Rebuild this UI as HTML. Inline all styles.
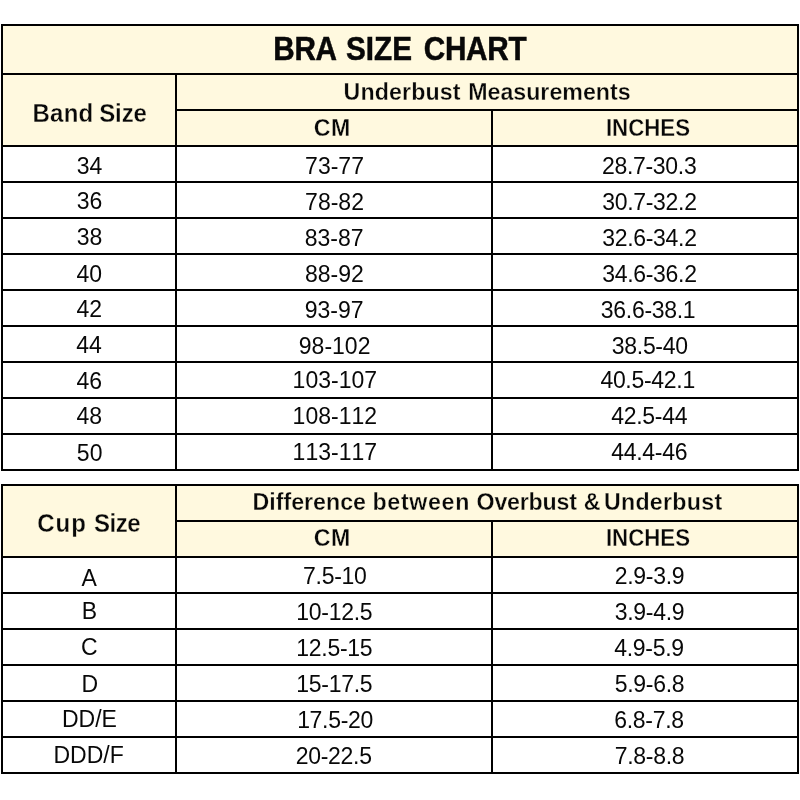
<!DOCTYPE html>
<html><head><meta charset="utf-8"><title>Bra Size Chart</title>
<style>
html,body{margin:0;padding:0;background:#fff;}
#c{position:relative;width:800px;height:800px;overflow:hidden;background:#fff;font-family:"Liberation Sans",sans-serif;color:#080808;}
#c div{position:absolute;}
#c #tx{left:0;top:0;width:800px;height:800px;will-change:transform;}
.t{position:absolute;white-space:nowrap;line-height:0;transform:translateX(-50%);}
.title{font-size:33px;}.h1{font-size:25px;}.h2{font-size:23.2px;}.h2m{font-size:23.2px;}.d{font-size:23px;}
.title{font-weight:bold;-webkit-text-stroke:0.5px #080808;transform:translateX(-50%) scaleX(0.9);}
.d{font-kerning:none;}
.h1{font-weight:bold;-webkit-text-stroke:0.3px #fff9df;transform:translateX(-50%) scaleX(0.96);}
.h2{font-weight:bold;-webkit-text-stroke:0.3px #fff9df;transform:translateX(-50%) scaleX(0.96);}
.h2m{font-weight:bold;-webkit-text-stroke:0.3px #fff9df;transform:translateX(-50%) scaleX(1.0);}
</style></head><body>
<div id="c">
<div style="left:1px;top:24px;width:798px;height:123px;background:#fff9df"></div>
<div style="left:1px;top:484px;width:798px;height:74px;background:#fff9df"></div>
<div style="left:1px;top:24px;width:798px;height:2px;background:#000"></div>
<div style="left:1px;top:73px;width:798px;height:2px;background:#000"></div>
<div style="left:175px;top:109px;width:624px;height:2px;background:#000"></div>
<div style="left:1px;top:145px;width:798px;height:2px;background:#000"></div>
<div style="left:1px;top:181px;width:798px;height:2px;background:#000"></div>
<div style="left:1px;top:217px;width:798px;height:2px;background:#000"></div>
<div style="left:1px;top:253px;width:798px;height:2px;background:#000"></div>
<div style="left:1px;top:289px;width:798px;height:2px;background:#000"></div>
<div style="left:1px;top:325px;width:798px;height:2px;background:#000"></div>
<div style="left:1px;top:361px;width:798px;height:2px;background:#000"></div>
<div style="left:1px;top:397px;width:798px;height:2px;background:#000"></div>
<div style="left:1px;top:433px;width:798px;height:2px;background:#000"></div>
<div style="left:1px;top:469px;width:798px;height:2px;background:#000"></div>
<div style="left:1px;top:484px;width:798px;height:2px;background:#000"></div>
<div style="left:175px;top:520px;width:624px;height:2px;background:#000"></div>
<div style="left:1px;top:556px;width:798px;height:2px;background:#000"></div>
<div style="left:1px;top:592px;width:798px;height:2px;background:#000"></div>
<div style="left:1px;top:628px;width:798px;height:2px;background:#000"></div>
<div style="left:1px;top:664px;width:798px;height:2px;background:#000"></div>
<div style="left:1px;top:700px;width:798px;height:2px;background:#000"></div>
<div style="left:1px;top:736px;width:798px;height:2px;background:#000"></div>
<div style="left:1px;top:772px;width:798px;height:2px;background:#000"></div>
<div style="left:1px;top:24px;width:2px;height:447px;background:#000"></div>
<div style="left:797px;top:24px;width:2px;height:447px;background:#000"></div>
<div style="left:1px;top:484px;width:2px;height:290px;background:#000"></div>
<div style="left:797px;top:484px;width:2px;height:290px;background:#000"></div>
<div style="left:175px;top:73px;width:2px;height:398px;background:#000"></div>
<div style="left:491px;top:109px;width:2px;height:362px;background:#000"></div>
<div style="left:175px;top:484px;width:2px;height:290px;background:#000"></div>
<div style="left:491px;top:520px;width:2px;height:254px;background:#000"></div>
<div id="tx">
<span class="t title" style="left:304.7px;top:49.07px;letter-spacing:-0.3px;">BRA</span>
<span class="t title" style="left:378.88px;top:49.07px;">SIZE</span>
<span class="t title" style="left:475.2px;top:49.07px;letter-spacing:-0.325px;">CHART</span>
<span class="t h1" style="left:63.4px;top:113.24px;letter-spacing:0.281px;">Band</span>
<span class="t h1" style="left:123.27px;top:113.24px;letter-spacing:-0.094px;">Size</span>
<span class="t h2m" style="left:402.1px;top:92.16px;letter-spacing:0.135px;">Underbust</span>
<span class="t h2m" style="left:549.4px;top:92.16px;">Measurements</span>
<span class="t h2m" style="left:332.3px;top:127.76px;letter-spacing:0.5px;">CM</span>
<span class="t h2" style="left:647.7px;top:127.76px;">INCHES</span>
<span class="t d" style="left:89.5px;top:165.73px;">34</span>
<span class="t d" style="left:334.52px;top:165.58px;">73-77</span>
<span class="t d" style="left:649.2px;top:165.68px;letter-spacing:-0.3px;">28.7-30.3</span>
<span class="t d" style="left:89.5px;top:201.03px;">36</span>
<span class="t d" style="left:334.52px;top:201.58px;">78-82</span>
<span class="t d" style="left:649.45px;top:202.03px;letter-spacing:-0.3px;">30.7-32.2</span>
<span class="t d" style="left:89.5px;top:236.58px;">38</span>
<span class="t d" style="left:334.15px;top:237.58px;">83-87</span>
<span class="t d" style="left:649.45px;top:237.63px;letter-spacing:-0.3px;">32.6-34.2</span>
<span class="t d" style="left:89.2px;top:273.83px;">40</span>
<span class="t d" style="left:334.35px;top:273.83px;">88-92</span>
<span class="t d" style="left:649.45px;top:273.83px;letter-spacing:-0.3px;">34.6-36.2</span>
<span class="t d" style="left:89.2px;top:309.03px;">42</span>
<span class="t d" style="left:334.2px;top:309.58px;">93-97</span>
<span class="t d" style="left:648.1px;top:309.58px;letter-spacing:-0.3px;">36.6-38.1</span>
<span class="t d" style="left:89.05px;top:344.93px;">44</span>
<span class="t d" style="left:334.65px;top:345.63px;">98-102</span>
<span class="t d" style="left:649.77px;top:345.63px;letter-spacing:-0.3px;">38.5-40</span>
<span class="t d" style="left:89.2px;top:380.98px;">46</span>
<span class="t d" style="left:334.82px;top:379.73px;">103-107</span>
<span class="t d" style="left:647.65px;top:379.73px;letter-spacing:-0.3px;">40.5-42.1</span>
<span class="t d" style="left:89.2px;top:416.03px;">48</span>
<span class="t d" style="left:334.82px;top:416.23px;">108-112</span>
<span class="t d" style="left:649.23px;top:416.23px;letter-spacing:-0.3px;">42.5-44</span>
<span class="t d" style="left:89.65px;top:452.93px;">50</span>
<span class="t d" style="left:334.82px;top:451.83px;">113-117</span>
<span class="t d" style="left:649.23px;top:451.93px;letter-spacing:-0.3px;">44.4-46</span>
<span class="t h1" style="left:62.0px;top:523.24px;letter-spacing:1.031px;">Cup</span>
<span class="t h1" style="left:117.15px;top:523.24px;letter-spacing:-0.469px;">Size</span>
<span class="t h2m" style="left:309.25px;top:502.16px;">Difference</span>
<span class="t h2m" style="left:421.25px;top:502.16px;letter-spacing:0.675px;">between</span>
<span class="t h2m" style="left:526.65px;top:502.16px;letter-spacing:-0.219px;">Overbust</span>
<span class="t h2m" style="left:592.15px;top:502.16px;">&amp;</span>
<span class="t h2m" style="left:663.2px;top:502.16px;letter-spacing:0.281px;">Underbust</span>
<span class="t h2m" style="left:332.3px;top:537.76px;letter-spacing:0.5px;">CM</span>
<span class="t h2" style="left:647.9px;top:537.76px;">INCHES</span>
<span class="t d" style="left:89.05px;top:577.68px;">A</span>
<span class="t d" style="left:334.8px;top:575.73px;letter-spacing:-0.3px;">7.5-10</span>
<span class="t d" style="left:649.55px;top:575.73px;letter-spacing:-0.3px;">2.9-3.9</span>
<span class="t d" style="left:89.5px;top:611.03px;">B</span>
<span class="t d" style="left:334.3px;top:612.23px;letter-spacing:-0.3px;">10-12.5</span>
<span class="t d" style="left:649.55px;top:612.03px;letter-spacing:-0.3px;">3.9-4.9</span>
<span class="t d" style="left:89.3px;top:646.83px;">C</span>
<span class="t d" style="left:334.3px;top:647.83px;letter-spacing:-0.3px;">12.5-15</span>
<span class="t d" style="left:649.0px;top:647.83px;letter-spacing:-0.3px;">4.9-5.9</span>
<span class="t d" style="left:89.8px;top:684.03px;">D</span>
<span class="t d" style="left:334.3px;top:683.73px;letter-spacing:-0.3px;">15-17.5</span>
<span class="t d" style="left:649.55px;top:683.73px;letter-spacing:-0.3px;">5.9-6.8</span>
<span class="t d" style="left:89.4px;top:719.03px;">DD/E</span>
<span class="t d" style="left:335.1px;top:720.03px;letter-spacing:-0.3px;">17.5-20</span>
<span class="t d" style="left:649.0px;top:720.03px;letter-spacing:-0.3px;">6.8-7.8</span>
<span class="t d" style="left:88.6px;top:754.58px;">DDD/F</span>
<span class="t d" style="left:333.7px;top:755.83px;letter-spacing:-0.3px;">20-22.5</span>
<span class="t d" style="left:649.55px;top:755.83px;letter-spacing:-0.3px;">7.8-8.8</span>
</div>
</div>
</body></html>
